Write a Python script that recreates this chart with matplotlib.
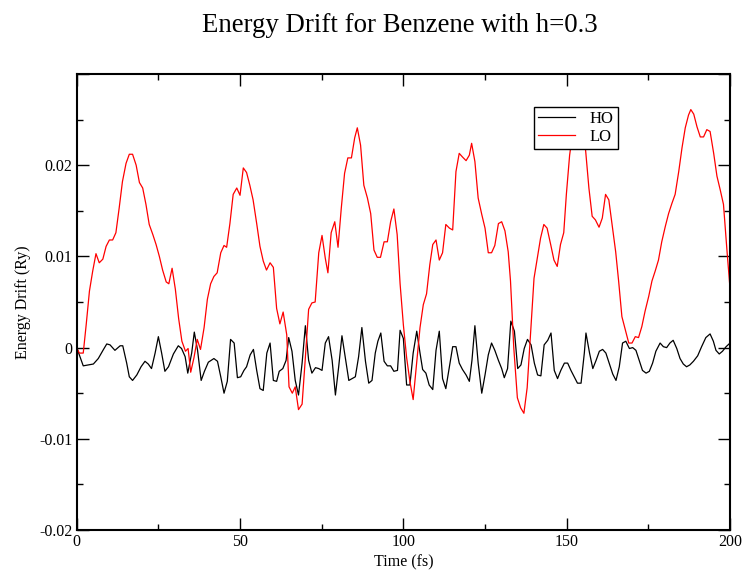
import matplotlib
matplotlib.use("Agg")
import matplotlib.pyplot as plt
from matplotlib.ticker import MultipleLocator

plt.rcParams['font.family'] = ['Liberation Serif', 'DejaVu Serif']

# HO run, energy drift in mRy
t_ho = [0, 2.0, 3.6, 5.1, 6.6, 8.2, 9.2, 10.2, 11.7, 13.3, 14.1, 15.3, 16.1, 17.1, 18.4,
        19.7, 20.9, 21.9, 22.9, 24.0, 25.0, 26.0, 27.0, 28.1, 29.6, 31.1, 32.1, 33.2, 34.0,
        35.2, 36.0, 37.0, 38.1, 39.1, 40.3, 42.0, 43.1, 44.1, 45.1, 46.1, 47.1, 48.2, 49.2,
        50.2, 51.2, 52.0, 53.1, 54.1, 55.1, 56.1, 57.1, 58.2, 59.2, 60.2, 61.2, 62.0, 63.1,
        64.1, 64.9, 65.9, 66.9, 67.9, 69.0, 70.0, 71.0, 72.0, 73.1, 74.1, 75.1, 76.1, 77.1,
        78.2, 79.2, 80.2, 81.2, 82.2, 83.3, 84.3, 85.3, 86.3, 87.3, 88.4, 89.4, 90.4, 91.4,
        92.2, 93.1, 94.1, 95.1, 96.1, 97.1, 98.2, 99.0, 100.0, 101.0, 102.0, 103.0, 104.1,
        105.1, 105.9, 106.9, 107.9, 109.0, 110.0, 111.0, 112.0, 113.0, 114.1, 115.1, 116.1,
        117.1, 118.1, 119.2, 120.2, 121.0, 121.9, 122.9, 124.0, 125.0, 126.0, 127.0, 128.0,
        129.1, 130.1, 130.9, 131.9, 132.9, 134.0, 135.0, 136.0, 137.0, 138.0, 139.1, 140.1,
        141.1, 142.1, 143.1, 144.2, 145.2, 146.2, 147.2, 148.2, 149.3, 150.3, 151.3, 152.3,
        153.3, 154.4, 155.4, 155.9, 157.0, 158.0, 159.0, 160.0, 161.0, 162.0, 163.0, 164.1,
        165.1, 166.1, 167.1, 168.1, 169.2, 170.2, 171.2, 172.2, 173.2, 174.3, 175.3, 176.3,
        177.3, 178.6, 179.6, 180.6, 181.6, 182.6, 183.7, 184.7, 185.7, 186.7, 187.7, 188.8,
        190.1, 191.3, 192.6, 193.9, 194.9, 195.7, 196.7, 197.7, 198.8, 200.0]
e_ho = [0.0, -2.0, -1.9, -1.8, -1.2, -0.2, 0.4, 0.3, -0.3, 0.2, 0.2, -1.7, -3.2, -3.6, -3.0,
        -2.1, -1.5, -1.8, -2.3, -0.6, 1.2, -0.6, -2.6, -2.1, -0.7, 0.2, -0.1, -1.0, -2.8,
        -0.6, 1.7, -0.3, -3.6, -2.6, -1.6, -1.2, -1.5, -3.2, -5.0, -3.7, 0.9, 0.5, -3.3,
        -3.2, -2.5, -2.1, -0.8, -0.2, -2.5, -4.5, -4.7, -0.6, 0.5, -3.6, -3.7, -2.6, -2.3,
        -1.4, 1.1, -0.4, -3.6, -5.2, -1.7, 2.4, -1.4, -2.8, -2.2, -2.3, -2.5, 0.5, 1.2,
        -1.4, -5.2, -2.1, 1.3, -1.0, -3.6, -3.4, -3.2, -1.0, 2.2, -1.5, -3.9, -3.6, -0.6,
        0.7, 1.6, -1.5, -2.0, -2.0, -2.6, -2.5, 1.9, 1.0, -4.1, -4.1, -0.6, 1.8,
        -0.6, -2.4, -2.8, -4.1, -4.6, -0.3, 1.8, -3.4, -4.5, -2.1, 0.1, 0.1,
        -1.7, -2.4, -3.0, -3.7, -1.4, 2.4, -1.7, -5.0, -3.0, -0.8, 0.5, -0.3,
        -1.4, -2.3, -3.3, -2.3, 2.9, 1.8, -2.3, -1.9, -0.1, 0.9, 0.3, -1.7,
        -3.0, -3.1, 0.3, 0.8, 1.6, -2.5, -3.4, -2.5, -1.7, -1.7, -2.5, -3.2,
        -3.9, -3.9, -0.6, 1.6, -0.6, -2.3, -1.4, -0.4, -0.2, -0.6, -1.7, -2.9,
        -3.6, -2.1, 0.5, 0.7, -0.1, 0.0, -0.3, -1.4, -2.5, -2.8, -2.6, -1.7,
        -0.4, 0.5, 0.1, 0.0, 0.5, 0.8, -0.1, -1.2, -1.8, -2.1, -1.9, -1.5,
        -0.9, 0.1, 1.1, 1.5, 0.7, -0.3, -0.7, -0.4, 0.1, 0.5]

# LO run
t_lo = [0, 0.8, 2.0, 2.9, 3.9, 4.9, 5.9, 6.9, 8.0, 9.0, 10.0, 11.0, 12.0, 13.0, 14.0, 15.1,
        16.1, 17.1, 18.2, 19.2, 20.2, 21.2, 22.2, 23.3, 24.3, 25.3, 26.3, 27.4, 28.2, 29.2,
        30.2, 31.2, 32.2, 33.3, 34.1, 34.9, 35.9, 36.9, 37.9, 39.0, 40.0, 41.0, 42.0, 43.0,
        44.1, 45.1, 45.9, 46.9, 47.9, 49.0, 50.0, 51.0, 52.0, 53.0, 54.0, 55.1, 56.1, 57.1,
        58.1, 59.2, 60.2, 61.2, 62.2, 63.2, 64.3, 65.0, 66.0, 66.9, 67.9, 69.0, 70.0, 71.0,
        72.0, 73.0, 74.1, 75.1, 76.1, 76.9, 77.9, 79.0, 80.0, 81.0, 82.0, 83.0, 84.1, 85.1,
        85.9, 86.9, 87.9, 89.0, 90.0, 91.0, 92.0, 93.0, 94.1, 95.1, 96.1, 97.1, 98.1, 99.0,
        100.0, 101.0, 102.0, 103.0, 104.1, 105.1, 106.1, 107.1, 108.1, 109.0, 110.0, 111.0,
        112.0, 113.0, 114.1, 115.1, 116.1, 117.1, 118.1, 119.2, 120.2, 120.9, 121.9, 122.9,
        124.0, 125.0, 126.0, 127.0, 128.0, 129.1, 130.1, 131.1, 132.1, 132.8, 133.8, 134.9,
        135.9, 136.9, 137.9, 138.9, 140.0, 141.0, 142.0, 143.0, 144.0, 145.1, 146.1, 147.1,
        148.1, 149.1, 149.9, 150.9, 152.0, 153.3, 154.6, 155.8, 156.8, 157.8, 158.8, 159.9,
        160.9, 161.9, 162.9, 163.9, 165.0, 165.9, 166.9, 167.9, 169.0, 170.0, 171.0, 172.0,
        173.0, 174.0, 175.1, 176.1, 177.1, 178.1, 179.1, 180.2, 181.2, 182.2, 183.2, 184.3,
        185.3, 186.3, 187.3, 188.0, 188.9, 189.9, 190.9, 191.9, 192.9, 193.9, 195.0, 196.0,
        197.0, 198.0, 199.1, 200.0]
e_lo = [0.0, -0.6, -0.6, 2.5, 6.2, 8.4, 10.3, 9.3, 9.7, 11.1, 11.8, 11.8, 12.6, 15.3, 18.2,
        20.2, 21.2, 21.2, 20.0, 18.1, 17.5, 15.7, 13.5, 12.4, 11.3, 10.0, 8.5, 7.2, 7.0, 8.7,
        6.4, 3.2, 0.7, -0.4, -0.1, -2.7, -1.1, 0.9, -0.2, 2.2, 5.3, 7.0, 7.8, 8.2,
        10.4, 11.2, 11.0, 13.6, 16.8, 17.5, 16.7, 19.7, 19.2, 17.8, 16.2, 13.6, 11.1, 9.5,
        8.5, 9.3, 8.8, 4.3, 2.6, 3.9, 1.4, -4.3, -5.0, -4.3, -6.8, -6.2, -1.1, 4.2,
        4.9, 5.0, 10.4, 12.3, 9.8, 8.2, 12.6, 13.8, 11.0, 15.3, 19.1, 20.8, 20.8, 23.0,
        24.1, 22.2, 17.8, 16.4, 14.7, 10.7, 9.9, 9.9, 11.6, 11.6, 13.8, 15.2, 12.4, 7.0,
        2.5, -1.1, -3.7, -5.7, -1.5, 2.2, 4.7, 5.9, 9.1, 11.3, 11.8, 9.6,
        10.4, 13.5, 13.1, 12.9, 19.3, 21.3, 20.9, 20.5, 21.1, 22.4, 20.4, 16.4,
        14.6, 13.1, 10.4, 10.4, 11.2, 13.6, 13.8, 12.8, 10.5, 7.3, 0.0, -5.5,
        -6.6, -7.2, -4.4, 1.4, 7.6, 9.8, 12.0, 13.5, 13.1, 11.3, 9.6, 8.9,
        11.3, 12.6, 16.8, 21.1, 24.0, 25.0, 24.0, 21.6, 17.5, 14.4, 14.0, 13.2,
        14.2, 16.8, 16.2, 13.5, 10.5, 7.3, 3.4, 2.0, 0.5, 0.5, 1.2, 1.1,
        2.3, 4.0, 5.6, 7.3, 8.4, 9.6, 11.6, 13.3, 14.7, 15.8, 16.8, 19.3,
        21.9, 24.1, 25.5, 26.1, 25.6, 24.2, 23.1, 23.1, 23.9, 23.7, 21.3, 18.8,
        17.3, 15.7, 10.5, 6.5]

fig = plt.figure(figsize=(7.44, 5.71), dpi=100)
ax = fig.add_axes([0.1031, 0.0718, 0.8781, 0.7986])

ax.plot(t_ho, [v * 1e-3 for v in e_ho], color='black', lw=0.9, label='HO')
ax.plot(t_lo, [v * 1e-3 for v in e_lo], color='red', lw=0.9, label='LO')

ax.set_xlim(0, 200)
ax.set_ylim(-0.02, 0.03)
ax.xaxis.set_major_locator(MultipleLocator(50))
ax.xaxis.set_minor_locator(MultipleLocator(25))
ax.yaxis.set_minor_locator(MultipleLocator(0.005))
# no label at the top (0.03) in the reference
ax.set_yticks([-0.02, -0.01, 0, 0.01, 0.02, 0.03])
ax.set_yticklabels(['-0.02', '-0.01', '0', '0.01', '0.02', ''])
ax.tick_params(which='both', direction='in', top=True, right=True, labelsize=11.5, width=1)
ax.tick_params(which='major', length=8.5, pad=3)
ax.tick_params(which='minor', length=4.3)
for s in ax.spines.values():
    s.set_linewidth(1.5)

ax.set_xlabel('Time (fs)', fontsize=11.5, labelpad=3)
ax.set_ylabel('Energy Drift (Ry)', fontsize=11.5, labelpad=6)
fig.suptitle('Energy Drift for Benzene with h=0.3', fontsize=19.3, x=0.538, y=0.978)

leg = ax.legend(loc='upper left', bbox_to_anchor=(0.70, 0.928), fontsize=12,
                fancybox=False, framealpha=1, edgecolor='black', handlelength=2.2,
                borderpad=0.25, labelspacing=0.1, handletextpad=0.9, borderaxespad=0)
leg.get_frame().set_linewidth(1)

fig.savefig('out.png', dpi=100)
